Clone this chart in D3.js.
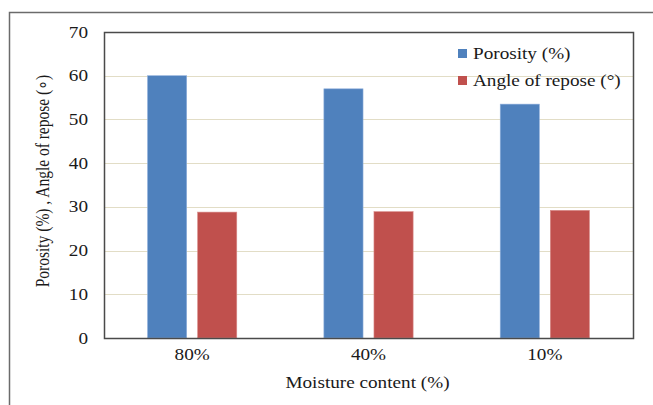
<!DOCTYPE html>
<html>
<head>
<meta charset="utf-8">
<script src="https://cdn.jsdelivr.net/npm/d3@7"></script>
<style>
  html, body { margin: 0; padding: 0; background: #fff; }
  svg { display: block; }
</style>
</head>
<body>
<script>
// Moisture content groups and measured values
const categories = ["80%", "40%", "10%"];
const seriesNames = ["Porosity (%)", "Angle of repose (\u00B0)"];
const porosity = [60.0, 57.0, 53.5];
const angleOfRepose = [28.8, 28.9, 29.2];
const yTicks = [0, 10, 20, 30, 40, 50, 60, 70];

const W = 653, H = 405;
const FONT = "'Liberation Serif', 'Times New Roman', Times, serif";
const FS = "16px";
const SX = 1.2; // glyphs are drawn slightly wide
const colors = ["#4f81bd", "#c0504d"];
const margin = { left: 104, right: 20, top: 32, bottom: 67 };
const plotRight = W - margin.right;
const plotBottom = H - margin.bottom;

const svg = d3.select("body").append("svg").attr("width", W).attr("height", H)
  .style("font-family", FONT);

// Outer frame (top and left edges)
svg.append("path")
  .attr("d", `M9.5,${H} V12.5 H${W}`)
  .attr("fill", "none").attr("stroke", "#6b6b6b").attr("stroke-width", 1.5);

const x = d3.scaleBand().domain(categories).range([margin.left, plotRight]);
const y = d3.scaleLinear().domain([0, 70]).range([plotBottom, margin.top]);
const bw = x.bandwidth();
const barW = bw * 0.222;
const gap = bw * 0.062;

// Gridlines
svg.append("g").selectAll("line").data(yTicks.filter(t => t > 0 && t < 70)).join("line")
  .attr("x1", margin.left).attr("x2", plotRight)
  .attr("y1", d => Math.round(y(d)) + 0.5).attr("y2", d => Math.round(y(d)) + 0.5)
  .attr("stroke", "#e2ddc6").attr("stroke-width", 1.2);

// Bars
const rows = categories.map((c, i) => ({ c, vals: [porosity[i], angleOfRepose[i]] }));
const g = svg.append("g").selectAll("g").data(rows).join("g")
  .attr("transform", d => `translate(${x(d.c)},0)`);
g.selectAll("rect").data(d => d.vals.map((v, k) => ({ v, k }))).join("rect")
  .attr("x", d => bw / 2 + (d.k === 0 ? -(barW + gap / 2) : gap / 2))
  .attr("width", barW)
  .attr("y", d => y(d.v))
  .attr("height", d => y(0) - y(d.v))
  .attr("fill", d => colors[d.k])
  .attr("stroke", d => d.k === 0 ? "#8fb0dc" : "#d88a88")
  .attr("stroke-width", 0.6);

// Plot frame
svg.append("rect")
  .attr("x", margin.left + 0.5).attr("y", margin.top + 0.5)
  .attr("width", plotRight - margin.left).attr("height", plotBottom - margin.top)
  .attr("fill", "none").attr("stroke", "#4a4a4a").attr("stroke-width", 1.5);

// Y axis labels
const yAxis = d3.axisLeft(y).tickValues(yTicks).tickSize(0).tickPadding(16 / SX);
const ya = svg.append("g").attr("transform", `translate(${margin.left},0)`).call(yAxis);
ya.select(".domain").remove();
ya.attr("font-family", null).attr("font-size", null);
ya.selectAll("text").style("font-family", FONT).style("font-size", FS)
  .attr("fill", "#1a1a1a").attr("transform", `scale(${SX},1)`);

// X axis labels
const xAxis = d3.axisBottom(x).tickSize(0).tickPadding(11);
const xa = svg.append("g").attr("transform", `translate(0,${plotBottom})`).call(xAxis);
xa.select(".domain").remove();
xa.attr("font-family", null).attr("font-size", null);
xa.selectAll("text").style("font-family", FONT).style("font-size", FS)
  .attr("fill", "#1a1a1a").attr("transform", `scale(${SX},1)`);

// Axis titles
svg.append("text")
  .attr("transform", `translate(${(margin.left + plotRight) / 2 - 1},388) scale(${SX},1)`)
  .attr("text-anchor", "middle").style("font-size", FS).attr("fill", "#1a1a1a")
  .text("Moisture content (%)");
svg.append("text")
  .attr("transform", `translate(49,${(margin.top + plotBottom) / 2 - 4}) rotate(-90) scale(1,${SX})`)
  .attr("text-anchor", "middle").style("font-size", "15.5px").attr("fill", "#1a1a1a")
  .text("Porosity (%) , Angle of repose (\u2218)");

// Legend
const lg = svg.append("g").attr("transform", "translate(458,49)");
seriesNames.forEach((name, i) => {
  lg.append("rect").attr("x", 0).attr("y", i * 27).attr("width", 9).attr("height", 9).attr("fill", colors[i]);
  lg.append("text").attr("transform", `translate(15,${i * 27 + 10}) scale(${SX},1)`)
    .style("font-size", FS).attr("fill", "#1a1a1a").text(name);
});
</script>
</body>
</html>
